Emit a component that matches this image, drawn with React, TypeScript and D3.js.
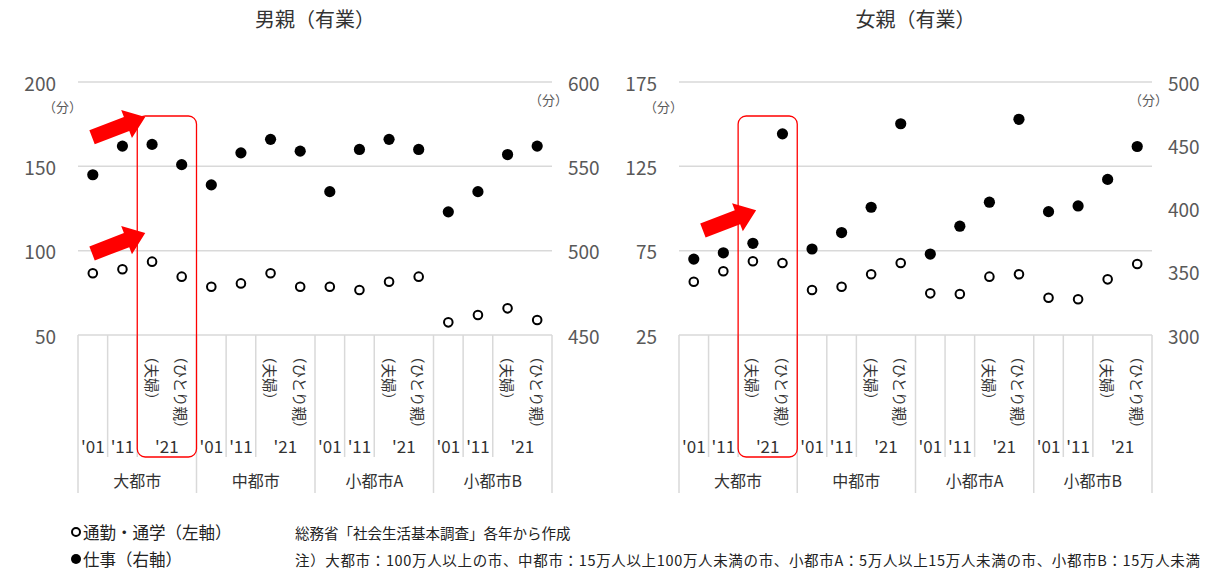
import * as d3 from 'd3'

const FONT = '"Noto Sans CJK JP", "Noto Sans", sans-serif'

// categories
const groups = ['大都市', '中都市', '小都市A', '小都市B']
const years = ["'01", "'11", "'21"]
const subLabels = ['（夫婦）', '（ひとり親）']
const slotKeys = ['01', '11', '21f', '21s']

// 男親（有業）
const maleCommute = [86.6, 89, 93.5, 84.6, 78.6, 80.6, 86.6, 78.6, 78.6, 76.7, 81.6, 84.6, 57.5, 61.9, 65.8, 58.9]
const maleWork = [545, 562, 563, 551, 539, 558, 566, 559, 535, 560, 566, 560, 523, 535, 557, 562]
const maleLeftTicks = [50, 100, 150, 200]
const maleRightTicks = [450, 500, 550, 600]

// 女親（有業）
const femaleCommute = [56.6, 62.8, 68.7, 67.7, 51.7, 53.6, 61, 67.7, 49.7, 49.3, 59.6, 61, 47.1, 46.2, 58, 67.1]
const femaleWork = [360, 365, 372.5, 459, 368, 381, 401, 467, 364, 386, 405, 470.5, 397.5, 402, 423, 449]
const femaleLeftTicks = [25, 75, 125, 175]
const femaleRightTicks = [300, 350, 400, 450, 500]

// arrow tips, in left-axis units, pointing at the '21 slots
const maleArrows = [179.3, 110.5]
const femaleArrows = [99]

const TOP = 82
const BOTTOM = 335
const TICK_BOTTOM = 457
const GROUP_BOTTOM = 493
const BOX_TOP = 116
const RED = '#ff0000'
const GRID = '#d9d9d9'

const allSlots = groups.flatMap(g => slotKeys.map(s => `${g}-${s}`))

function arrowPath (tipX: number, tipY: number) {
    // block arrow pointing along +x, then rotated
    const len = 57, head = 20, hw = 15, sw = 7.5
    const pts: [number, number][] = [
        [0, -sw], [len - head, -sw], [len - head, -hw], [len, 0],
        [len - head, hw], [len - head, sw], [0, sw]
    ]
    const a = -21 * Math.PI / 180
    const cos = Math.cos(a), sin = Math.sin(a)
    const moved = pts.map(([x, y]) => {
        const rx = (x - len) * cos - y * sin
        const ry = (x - len) * sin + y * cos
        return [tipX + rx, tipY + ry] as [number, number]
    })
    return d3.line()(moved) + 'Z'
}

type PanelProps = {
    x0: number, x1: number, title: string,
    leftTicks: number[], rightTicks: number[],
    commute: number[], work: number[], arrows: number[], arrowOffset: number
}

const Panel = ({ x0, x1, title, leftTicks, rightTicks, commute, work, arrows, arrowOffset }: PanelProps) => {
    const x = d3.scaleBand().domain(allSlots).range([x0, x1]).padding(0)
    const bw = x.bandwidth()
    const yL = d3.scaleLinear().domain(d3.extent(leftTicks) as [number, number]).range([BOTTOM, TOP])
    const yR = d3.scaleLinear().domain(d3.extent(rightTicks) as [number, number]).range([BOTTOM, TOP])
    const first = groups[0]
    const boxX = x(`${first}-21f`)!
    const boxW = bw * 2

    return (
        <g>
            <text x={(x0 + x1) / 2} y={18} textAnchor="middle" dominantBaseline="central"
                style={{ fontSize: '20px', fill: '#333' }}>{title}</text>

            {leftTicks.map(t => (
                <g key={'l' + t}>
                    <line x1={x0} x2={x1} y1={yL(t)} y2={yL(t)} stroke={GRID} strokeWidth={1.5} />
                    <text x={x0 - 22} y={yL(t)} textAnchor="end" dominantBaseline="central"
                        style={{ fontSize: '19px', fill: '#595959' }}>{t}</text>
                </g>
            ))}
            {rightTicks.map(t => (
                <text key={'r' + t} x={x1 + 16} y={yR(t)} dominantBaseline="central"
                    style={{ fontSize: '19px', fill: '#595959' }}>{t}</text>
            ))}
            <text x={x0 + 4} y={TOP + 24} textAnchor="end" dominantBaseline="central"
                style={{ fontSize: '13px', fill: '#595959' }}>（分）</text>
            <text x={x1 + 16} y={TOP + 17} textAnchor="end" dominantBaseline="central"
                style={{ fontSize: '13px', fill: '#595959' }}>（分）</text>

            {/* category axis */}
            {groups.map(g => {
                const gx = x(`${g}-01`)!
                return (
                    <g key={g}>
                        <line x1={gx} x2={gx} y1={BOTTOM} y2={GROUP_BOTTOM} stroke={GRID} strokeWidth={1.5} />
                        <line x1={gx + bw} x2={gx + bw} y1={BOTTOM} y2={TICK_BOTTOM} stroke={GRID} strokeWidth={1.5} />
                        <line x1={gx + bw * 2} x2={gx + bw * 2} y1={BOTTOM} y2={TICK_BOTTOM} stroke={GRID} strokeWidth={1.5} />
                        {years.map((yr, i) => {
                            const cx = i < 2 ? gx + bw * (i + 0.5) : gx + bw * 3
                            return <text key={yr} x={cx} y={445} textAnchor="middle" dominantBaseline="central"
                                style={{ fontSize: '17px', fill: '#333' }}>{yr}</text>
                        })}
                        {subLabels.map((s, i) => {
                            const cx = gx + bw * (2.5 + i)
                            return <text key={s} transform={`translate(${cx},349) rotate(90)`} dominantBaseline="central"
                                style={{ fontSize: '14.5px', fill: '#333' }}>{s}</text>
                        })}
                        <text x={gx + bw * 2} y={480} textAnchor="middle" dominantBaseline="central"
                            style={{ fontSize: '16px', fill: '#333' }}>{g}</text>
                    </g>
                )
            })}
            <line x1={x1} x2={x1} y1={BOTTOM} y2={GROUP_BOTTOM} stroke={GRID} strokeWidth={1.5} />

            {/* points */}
            {allSlots.map((s, i) => (
                <g key={s}>
                    <circle cx={x(s)! + bw / 2} cy={yL(commute[i])} r={4.3} fill="#fff" stroke="#000" strokeWidth={2} />
                    <circle cx={x(s)! + bw / 2} cy={yR(work[i])} r={5.6} fill="#000" />
                </g>
            ))}

            {/* highlight */}
            <rect x={boxX} y={BOX_TOP} width={boxW} height={TICK_BOTTOM - BOX_TOP} rx={8}
                fill="none" stroke={RED} strokeWidth={1.3} />
            {arrows.map(v => (
                <path key={v} d={arrowPath(boxX + arrowOffset, yL(v))} fill={RED} />
            ))}
        </g>
    )
}

export default function App () {
    return (
        <svg width={1222} height={571} style={{ position: 'absolute', left: 0, top: 0, fontFamily: FONT }}>
            <rect width={1222} height={571} fill="#fff" />
            <Panel x0={78} x1={552} title="男親（有業）" leftTicks={maleLeftTicks} rightTicks={maleRightTicks}
                commute={maleCommute} work={maleWork} arrows={maleArrows} arrowOffset={8} />
            <Panel x0={679} x1={1152} title="女親（有業）" leftTicks={femaleLeftTicks} rightTicks={femaleRightTicks}
                commute={femaleCommute} work={femaleWork} arrows={femaleArrows} arrowOffset={18} />

            <circle cx={76} cy={532} r={4} fill="#fff" stroke="#000" strokeWidth={2} />
            <text x={83} y={532} dominantBaseline="central" style={{ fontSize: '16.5px', fill: '#222' }}>通勤・通学（左軸）</text>
            <circle cx={76} cy={559} r={5} fill="#000" />
            <text x={83} y={559} dominantBaseline="central" style={{ fontSize: '16.5px', fill: '#222' }}>仕事（右軸）</text>

            <text x={295} y={532} dominantBaseline="central" style={{ fontSize: '14.5px', fill: '#222' }}>総務省「社会生活基本調査」各年から作成</text>
            <text x={295} y={559} dominantBaseline="central" textLength={905}
                style={{ fontSize: '14.5px', fill: '#222' }}>注）大都市：100万人以上の市、中都市：15万人以上100万人未満の市、小都市A：5万人以上15万人未満の市、小都市B：15万人未満</text>
        </svg>
    )
}
